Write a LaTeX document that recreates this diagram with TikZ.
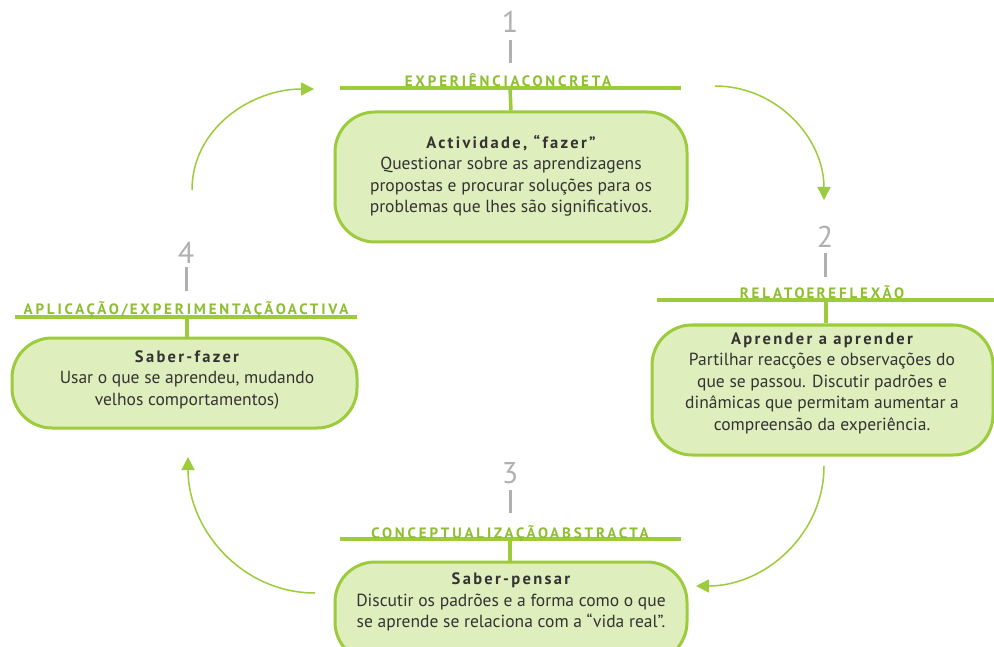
\documentclass[tikz,border=0pt]{standalone}
\usepackage{fontspec}
\setmainfont{PT Sans}
\usetikzlibrary{arrows.meta}
\definecolor{gborder}{HTML}{9CCB3B}
\definecolor{gfill}{HTML}{DFEEBD}
\definecolor{glabel}{HTML}{8DBE2F}
\definecolor{numgray}{HTML}{B0B0B0}
\definecolor{txt}{HTML}{333333}
\newcommand{\ttl}[1]{{\fontsize{16.5}{21}\selectfont\bfseries\addfontfeature{LetterSpace=14}#1}}
\begin{document}
\begin{tikzpicture}[x=1pt,y=-1pt,
  stagebox/.style={draw=gborder, line width=3pt, fill=gfill, rounded corners=40pt, inner sep=0pt, shape=rectangle},
  bodytext/.style={align=center, text=txt, font=\fontsize{17.5}{21.5}\selectfont, inner sep=0pt},
  hline/.style={draw=gborder, line width=4pt},
  conn/.style={draw=gborder, line width=3.5pt},
  hlabel/.style={text=glabel, font=\fontsize{15}{15}\selectfont\bfseries\addfontfeature{LetterSpace=19}, anchor=base, inner sep=0pt},
  numlabel/.style={text=numgray, font=\fontsize{30}{30}\selectfont, inner sep=0pt},
  tick/.style={draw=numgray, line width=3pt},
  cyc/.style={draw=gborder, line width=1.5pt, -{Triangle[length=13pt,width=13pt]}}]
\clip (0,0) rectangle (994,647);
\fill[white] (0,0) rectangle (994,647);

% ---------- stage 1
\node[numlabel] (n1) at (510,22) {1};
\draw[tick] (510,40) -- (510,63);
\coordinate (h1) at (510,88);
\draw[hline] (340,88) -- (681,88);
\node[hlabel] (l1) at (508,87) {\spaceskip=2pt EXPERIÊNCIA CONCRETA};
\node[stagebox, minimum width=352pt, minimum height=130pt] (b1) at (511,177) {};
\draw[conn] (h1) -- (b1.north);
\node[bodytext] (t1) at (511,176) {\ttl{Actividade, “fazer”}\\Questionar sobre as aprendizagens\\propostas e procurar soluções para os\\problemas que lhes são significativos.};

% ---------- stage 2
\node[numlabel] (n2) at (825,237) {2};
\draw[tick] (825,253) -- (825,277);
\coordinate (h2) at (826,300);
\draw[hline] (657,300) -- (994,300);
\node[hlabel] (l2) at (822,299) {\spaceskip=2pt RELATO E REFLEXÃO};
\node[stagebox, minimum width=341pt, minimum height=130pt] (b2) at (822.5,390) {};
\draw[conn] (h2) -- (b2.north -| h2);
\node[bodytext] (t2) at (822,383) {\ttl{Aprender a aprender}\\Partilhar reacções e observações do\\que se passou. Discutir padrões e\\dinâmicas que permitam aumentar a\\compreensão da experiência.};

% ---------- stage 3
\node[numlabel] (n3) at (510,473) {3};
\draw[tick] (510,490) -- (510,513);
\coordinate (h3) at (510,539);
\draw[hline] (340,539) -- (681,539);
\node[hlabel] (l3) at (510,538) {\spaceskip=2pt CONCEPTUALIZAÇÃO ABSTRACTA};
\node[stagebox, minimum width=352pt, minimum height=100pt] (b3) at (511,612) {};
\draw[conn] (h3) -- (b3.north -| h3);
\node[bodytext] (t3) at (511,602) {\ttl{Saber-pensar}\\Discutir os padrões e a forma como o que\\se aprende se relaciona com a “vida real”.};

% ---------- stage 4
\node[numlabel] (n4) at (186,253) {4};
\draw[tick] (186,267) -- (186,291);
\coordinate (h4) at (187,317);
\draw[hline] (15,317) -- (357,317);
\node[hlabel] (l4) at (186,315) {\spaceskip=2pt APLICAÇÃO/ EXPERIMENTAÇÃO ACTIVA};
\node[stagebox, minimum width=345pt, minimum height=90pt] (b4) at (184.5,383) {};
\draw[conn] (h4) -- (b4.north -| h4);
\node[bodytext] (t4) at (187,380) {\ttl{Saber-fazer}\\Usar o que se aprendeu, mudando\\velhos comportamentos)};

% ---------- cycle arrows
\coordinate (a1s) at (192,190);
\coordinate (a1e) at (314,89);
\coordinate (a2s) at (715,86);
\coordinate (a2e) at (824,200);
\coordinate (a3s) at (824,466);
\coordinate (a3e) at (696,586);
\coordinate (a4s) at (315,593);
\coordinate (a4e) at (188,457);
\draw[cyc] (a1s) to[out=90,in=180] (a1e);
\draw[cyc] (a2s) to[out=0,in=90] (a2e);
\draw[cyc] (a3s) to[out=-90,in=0] (a3e);
\draw[cyc] (a4s) to[out=180,in=-90] (a4e);
\end{tikzpicture}
\end{document}
